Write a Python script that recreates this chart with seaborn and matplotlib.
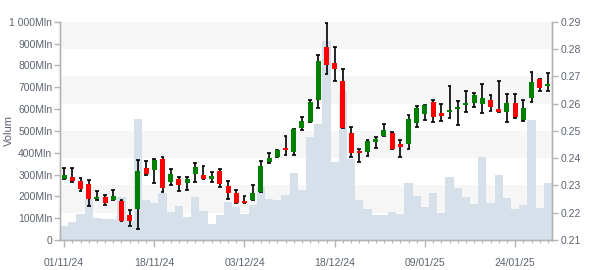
import numpy as np
import pandas as pd
import matplotlib
matplotlib.use('Agg')
import matplotlib.pyplot as plt
import seaborn as sns
from matplotlib.transforms import blended_transform_factory
from matplotlib.patches import Rectangle
from matplotlib.ticker import FixedLocator, MultipleLocator, FuncFormatter

# ---------------- data ----------------
opens = [0.2325, 0.2331, 0.2316, 0.2305, 0.2250, 0.2258, 0.2248, 0.2244, 0.2190, 0.2215,
         0.2364, 0.2358, 0.2397, 0.2311, 0.2322, 0.2310, 0.2343, 0.2337, 0.2322, 0.2353,
         0.2299, 0.2272, 0.2243, 0.2248, 0.2277, 0.2387, 0.2405, 0.2438, 0.2423, 0.2511,
         0.2533, 0.2614, 0.2807, 0.2748, 0.2682, 0.2492, 0.2426, 0.2423, 0.2460, 0.2482,
         0.2492, 0.2452, 0.2453, 0.2530, 0.2563, 0.2607, 0.2564, 0.2568, 0.2581, 0.2593,
         0.2601, 0.2597, 0.2612, 0.2579, 0.2570, 0.2603, 0.2541, 0.2621, 0.2690, 0.2666]
closes = [0.2338, 0.2316, 0.2288, 0.2251, 0.2256, 0.2237, 0.2261, 0.2171, 0.2171, 0.2352,
          0.2343, 0.2394, 0.2292, 0.2342, 0.2300, 0.2322, 0.2366, 0.2325, 0.2336, 0.2306,
          0.2273, 0.2237, 0.2236, 0.2272, 0.2371, 0.2400, 0.2430, 0.2431, 0.2507, 0.2536,
          0.2605, 0.2756, 0.2742, 0.2727, 0.2511, 0.2420, 0.2420, 0.2463, 0.2470, 0.2503,
          0.2433, 0.2442, 0.2543, 0.2582, 0.2595, 0.2552, 0.2555, 0.2577, 0.2587, 0.2603,
          0.2630, 0.2619, 0.2588, 0.2570, 0.2602, 0.2549, 0.2584, 0.2679, 0.2658, 0.2673]
highs = [0.2363, 0.2363, 0.2326, 0.2319, 0.2278, 0.2264, 0.2282, 0.2247, 0.2209, 0.2392,
         0.2388, 0.2396, 0.2403, 0.2359, 0.2330, 0.2330, 0.2381, 0.2371, 0.2348, 0.2360,
         0.2315, 0.2282, 0.2261, 0.2300, 0.2388, 0.2419, 0.2430, 0.2481, 0.2507, 0.2551,
         0.2613, 0.2778, 0.2894, 0.2807, 0.2727, 0.2514, 0.2434, 0.2465, 0.2478, 0.2525,
         0.2496, 0.2466, 0.2557, 0.2591, 0.2595, 0.2613, 0.2598, 0.2664, 0.2608, 0.2645,
         0.2637, 0.2670, 0.2630, 0.2682, 0.2635, 0.2635, 0.2612, 0.2715, 0.2690, 0.2711]
lows = [0.2325, 0.2314, 0.2278, 0.2223, 0.2245, 0.2227, 0.2248, 0.2171, 0.2150, 0.2139,
        0.2339, 0.2308, 0.2275, 0.2300, 0.2278, 0.2282, 0.2311, 0.2325, 0.2314, 0.2293,
        0.2249, 0.2234, 0.2234, 0.2248, 0.2277, 0.2381, 0.2405, 0.2412, 0.2412, 0.2502,
        0.2533, 0.2582, 0.2707, 0.2681, 0.2511, 0.2403, 0.2385, 0.2407, 0.2438, 0.2482,
        0.2433, 0.2403, 0.2432, 0.2515, 0.2538, 0.2531, 0.2535, 0.2548, 0.2520, 0.2568,
        0.2586, 0.2564, 0.2571, 0.2568, 0.2531, 0.2548, 0.2535, 0.2607, 0.2645, 0.2645]
volumes = [64, 83, 119, 187, 101, 96, 96, 197, 89, 555,
           183, 170, 216, 128, 156, 106, 197, 135, 73, 115,
           174, 151, 119, 161, 243, 188, 183, 206, 307, 229,
           472, 532, 913, 358, 683, 372, 183, 142, 115, 115,
           128, 119, 261, 202, 151, 216, 124, 289, 239, 197,
           165, 381, 170, 298, 193, 142, 161, 550, 147, 261]  # Mln
tick_labels = ['01/11/24', '18/11/24', '03/12/24', '18/12/24', '09/01/25', '24/01/25']
label_every = 11

# ---------------- style ----------------
sns.set_theme(style='ticks')
plt.rcParams['font.family'] = ['Liberation Sans', 'DejaVu Sans']
TXT = '#5c6470'
AXC = '#b4b4b4'
VOL_C = '#d6e0ea'
BAND_C = '#f6f6f6'

n = len(volumes)
idx = np.arange(n)
df = pd.DataFrame({'idx': idx, 'vol': volumes, 'open': opens, 'close': closes,
                   'high': highs, 'low': lows})

fig = plt.figure(figsize=(6, 2.7), dpi=100)
ax = fig.add_axes([0.1, 0.1111, 0.82, 0.8085])
ax2 = ax.twinx()
ax2.set_ylim(0.21, 0.29)
ax.set_ylim(0, 1000)

# alternating bands in price units (drawn on the volume axes, behind bars)
btr = blended_transform_factory(ax.transAxes, ax2.transData)
for lo in [0.22, 0.24, 0.26, 0.28]:
    ax.add_patch(Rectangle((0, lo), 1, 0.01, transform=btr, facecolor=BAND_C,
                           edgecolor='none', zorder=0))

# volume bars
sns.barplot(data=df, x='idx', y='vol', ax=ax, color=VOL_C, saturation=1,
            width=1.0, edgecolor='none', linewidth=0, zorder=1)

# candles
up = df['close'] >= df['open']
cols = np.where(up, '#008000', '#ff0000')
ax2.vlines(df['idx'], df['low'], df['high'], color='black', lw=1.2, zorder=2)
cap = 0.24
ax2.hlines(df['high'], df['idx'] - cap, df['idx'] + cap, color='black', lw=1.2, zorder=2)
ax2.hlines(df['low'], df['idx'] - cap, df['idx'] + cap, color='black', lw=1.2, zorder=2)
body_lo = np.minimum(df['open'], df['close'])
body_h = np.abs(df['close'] - df['open'])
ax2.bar(df['idx'], body_h, bottom=body_lo, width=0.62, color=cols, edgecolor='none',
        zorder=3)

ax.set_xlim(-0.5, n - 0.5)

# x axis
ax.xaxis.set_major_locator(FixedLocator(list(range(0, n, label_every))))
ax.set_xticklabels(tick_labels)
ax.xaxis.set_minor_locator(MultipleLocator(1))
ax.set_xlabel('')

# left axis
ax.yaxis.set_major_locator(MultipleLocator(100))
def vfmt(v, pos):
    v = int(round(v))
    if v == 0:
        return '0'
    if v >= 1000:
        return f'{v // 1000} {v % 1000:03d}Mln'
    return f'{v}Mln'
ax.yaxis.set_major_formatter(FuncFormatter(vfmt))
ax.set_ylabel('Volum', color=TXT, fontsize=8)
ax.yaxis.set_label_coords(-0.093, 0.5)

# right axis
ax2.yaxis.set_major_locator(MultipleLocator(0.01))
ax2.yaxis.set_major_formatter(FuncFormatter(lambda v, p: f'{v:.2f}'))

for a in (ax, ax2):
    a.spines['top'].set_visible(False)
    for s in ('left', 'right', 'bottom'):
        a.spines[s].set_color(AXC)
        a.spines[s].set_linewidth(1)
    a.grid(False)

ax.tick_params(axis='y', which='both', left=True, right=False, length=4, width=1,
               color=AXC, labelcolor=TXT, labelsize=7.5, pad=1.5)
ax2.tick_params(axis='y', which='both', left=False, right=True, length=4, width=1,
                color=AXC, labelcolor=TXT, labelsize=7.5, pad=2)
ax.tick_params(axis='x', which='major', length=5, width=1, color=AXC,
               labelcolor=TXT, labelsize=7.5, pad=8)
ax.tick_params(axis='x', which='minor', length=2.5, width=0.8, color=AXC)

fig.savefig('out.png', dpi=100)
